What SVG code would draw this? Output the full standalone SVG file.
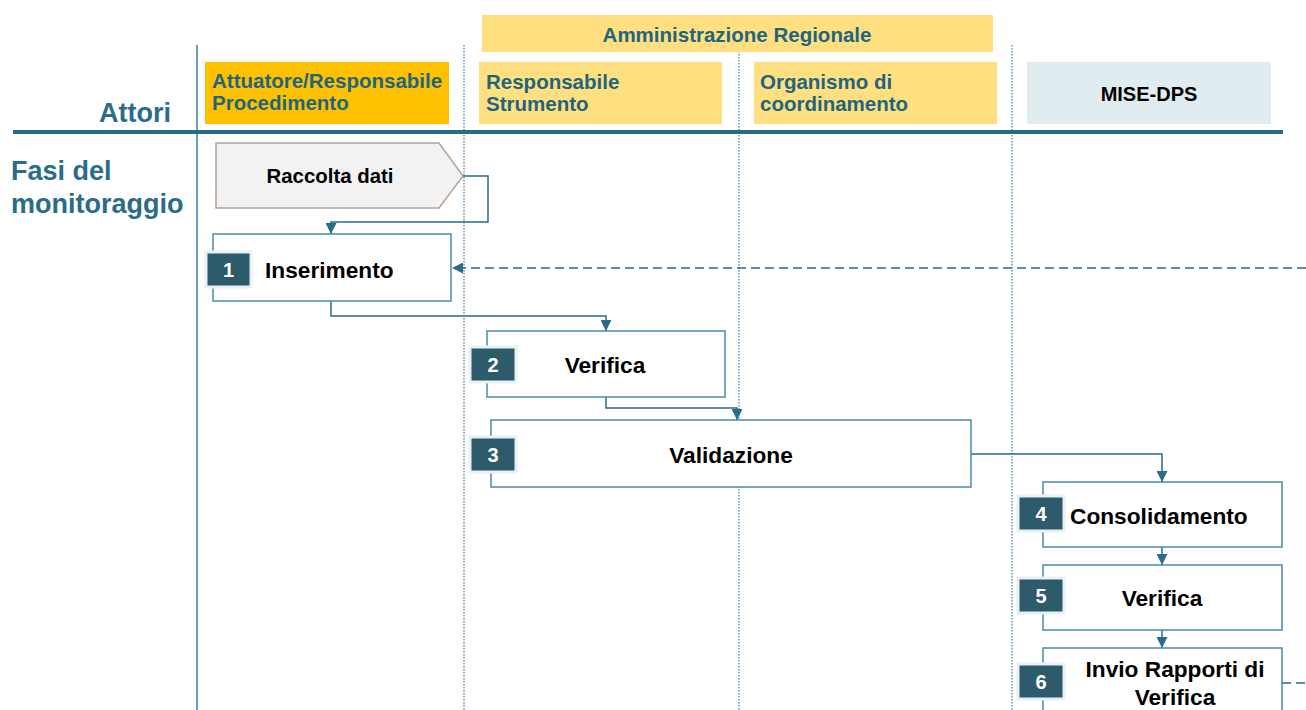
<svg xmlns="http://www.w3.org/2000/svg" width="1306" height="710" viewBox="0 0 1306 710">
<style>
text{font-family:"Liberation Sans",Arial,sans-serif;font-weight:bold}
.hdr{fill:#1E6580;font-size:20.5px}
.side{fill:#2A6C8A;font-size:27px}
.step{fill:#000;font-size:22.7px}
.num{fill:#fff;font-size:20px}
.box{fill:#fff;stroke:#4A8BAA;stroke-width:1.5}
.badge{fill:#2D5B6B;stroke:#EAF1F5;stroke-width:3}
.con{fill:none;stroke:#2B6B8A;stroke-width:1.5}
.dash{fill:none;stroke:#2B6B8A;stroke-width:1.5;stroke-dasharray:9 5}
.dot{fill:none;stroke:#5E98B5;stroke-width:1.5;stroke-dasharray:1.5 1.5}
</style>
<defs>
<marker id="arr" viewBox="0 0 10 10" refX="10" refY="5" markerWidth="11" markerHeight="11" orient="auto" markerUnits="userSpaceOnUse">
<path d="M0,0 L10,5 L0,10 z" fill="#2B6B8A"/>
</marker>
</defs>
<rect width="1306" height="710" fill="#fff"/>

<g id="grid">
<line x1="197" y1="45" x2="197" y2="710" stroke="#3E7FA0" stroke-width="1.5"/>
<line class="dot" x1="464" y1="45" x2="464" y2="710"/>
<line class="dot" x1="739" y1="45" x2="739" y2="710"/>
<line class="dot" x1="1012" y1="45" x2="1012" y2="710"/>
<line x1="13" y1="132" x2="1283" y2="132" stroke="#276A8A" stroke-width="4"/>
</g>

<g id="labels">
<text class="side" x="171" y="122" text-anchor="end">Attori</text>
<text class="side" x="11" y="180">Fasi del</text>
<text class="side" x="11" y="213">monitoraggio</text>
</g>

<g id="hdr-amm">
<rect x="482" y="15" width="511" height="37" fill="#FFDF80"/>
<text class="hdr" x="737" y="42" text-anchor="middle">Amministrazione Regionale</text>
</g>
<g id="hdr-attuatore">
<rect x="205" y="62" width="244" height="62" fill="#FFC000"/>
<text class="hdr" x="212" y="88">Attuatore/Responsabile</text>
<text class="hdr" x="212" y="110">Procedimento</text>
</g>
<g id="hdr-strumento">
<rect x="479" y="62" width="243" height="62" fill="#FFDF80"/>
<text class="hdr" x="486" y="89">Responsabile</text>
<text class="hdr" x="486" y="111">Strumento</text>
</g>
<g id="hdr-organismo">
<rect x="754" y="62" width="243" height="62" fill="#FFDF80"/>
<text class="hdr" x="760" y="89">Organismo di</text>
<text class="hdr" x="760" y="111">coordinamento</text>
</g>
<g id="hdr-mise">
<rect x="1027" y="62" width="244" height="62" fill="#E1ECF0"/>
<text x="1149" y="101" text-anchor="middle" font-size="20" fill="#000">MISE-DPS</text>
</g>

<g id="connectors">
<path class="con" d="M463,176 H488 V222 H331 V234" marker-end="url(#arr)"/>
<path class="con" d="M331,301 V316 H606 V331" marker-end="url(#arr)"/>
<path class="con" d="M606,397 V408 H737 V420" marker-end="url(#arr)"/>
<path class="con" d="M971,454 H1162 V482" marker-end="url(#arr)"/>
<path class="con" d="M1162,547 V565" marker-end="url(#arr)"/>
<path class="con" d="M1162,630 V648" marker-end="url(#arr)"/>
<path class="dash" d="M1306,268 H452" marker-end="url(#arr)"/>
<path class="dash" d="M1282,683 H1306"/>
</g>

<g id="raccolta">
<path d="M216,143 H439 L463,176 L439,208 H216 Z" fill="#F2F2F2" stroke="#B5A293" stroke-width="1.5"/>
<text x="330" y="183" text-anchor="middle" font-size="20.4" fill="#000">Raccolta dati</text>
</g>

<g id="step1">
<rect class="box" x="213" y="234" width="238" height="67"/>
<rect class="badge" x="206" y="252" width="45" height="35"/>
<text class="num" x="228.5" y="277" text-anchor="middle">1</text>
<text class="step" x="265" y="278">Inserimento</text>
</g>

<g id="step2">
<rect class="box" x="487" y="331" width="238" height="66"/>
<rect class="badge" x="470" y="347" width="46" height="35"/>
<text class="num" x="493" y="372" text-anchor="middle">2</text>
<text class="step" x="605" y="373" text-anchor="middle">Verifica</text>
</g>

<g id="step3">
<rect class="box" x="491" y="420" width="480" height="67"/>
<rect class="badge" x="470" y="437" width="46" height="35"/>
<text class="num" x="493" y="462" text-anchor="middle">3</text>
<text class="step" x="731" y="463" text-anchor="middle">Validazione</text>
</g>

<g id="step4">
<rect class="box" x="1043" y="482" width="239" height="65"/>
<rect class="badge" x="1018" y="496" width="46" height="35"/>
<text class="num" x="1041" y="521" text-anchor="middle">4</text>
<text class="step" x="1070" y="524" font-size="23.1">Consolidamento</text>
</g>

<g id="step5">
<rect class="box" x="1043" y="565" width="239" height="65"/>
<rect class="badge" x="1018" y="578" width="46" height="35"/>
<text class="num" x="1041" y="603" text-anchor="middle">5</text>
<text class="step" x="1162" y="606" text-anchor="middle">Verifica</text>
</g>

<g id="step6">
<rect class="box" x="1043" y="648" width="239" height="80"/>
<rect class="badge" x="1018" y="664" width="46" height="35"/>
<text class="num" x="1041" y="689" text-anchor="middle">6</text>
<text class="step" x="1175" y="677" text-anchor="middle" font-size="23.2">Invio Rapporti di</text>
<text class="step" x="1175" y="705" text-anchor="middle" font-size="23.2">Verifica</text>
</g>
</svg>
